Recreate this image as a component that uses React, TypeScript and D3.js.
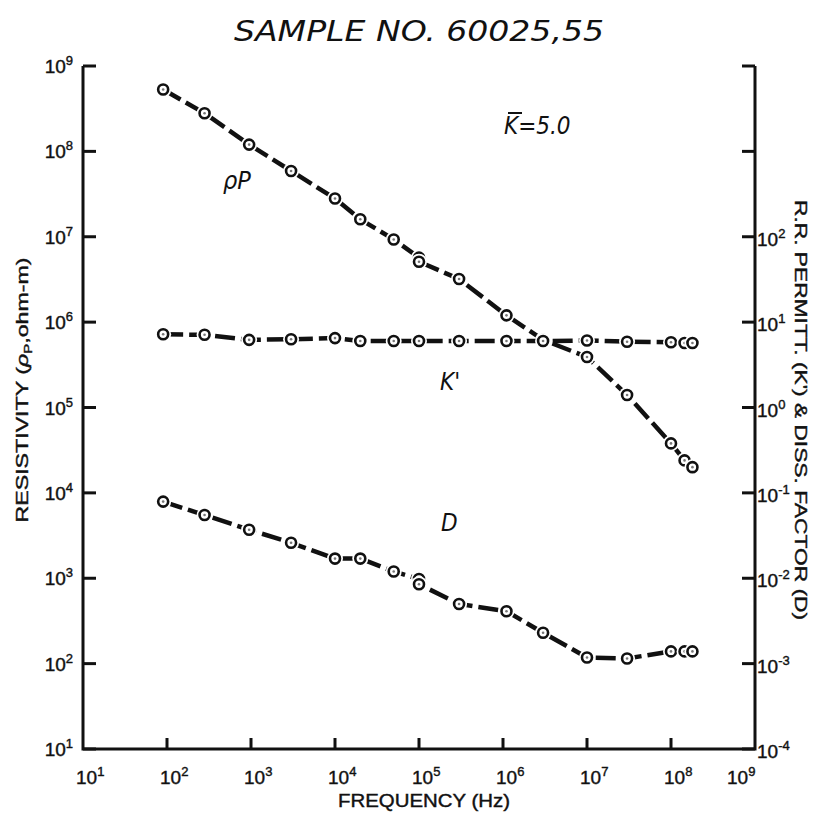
import React from 'react';
import * as d3 from 'd3';

// frequencies (Hz) of the measured points
const freq = [90, 280, 950, 3000, 1e4, 2e4, 5e4, 1e5, 3e5, 1.1e6, 3e6, 1e7, 3e7, 1e8, 1.45e8, 1.8e8];
// resistivity rho_P (ohm-m), left axis
const rhoP = [5.3e8, 2.8e8, 1.2e8, 5.9e7, 2.8e7, 1.6e7, 9.3e6, 5.7e6, 3.2e6, 1.2e6, 6.2e5, 3.9e5, 1.4e5, 3.8e4, 2.4e4, 2.0e4];
// relative permittivity K', right axis
const kPrime = [7.2, 7.1, 6.2, 6.3, 6.5, 6.0, 6.0, 6.0, 6.0, 6.0, 6.0, 6.1, 5.9, 5.8, 5.7, 5.7];
// dissipation factor D, right axis
const dFactor = [0.079, 0.055, 0.037, 0.026, 0.017, 0.017, 0.012, 0.0098, 0.005, 0.0041, 0.0023, 0.00118, 0.00115, 0.00139, 0.00139, 0.00139];
// second readings taken at 1e5 Hz
const rhoExtra = [{ f: 1e5, v: 5.1e6 }];
const dExtra = [{ f: 1e5, v: 0.0085 }];

const xExps = [1, 2, 3, 4, 5, 6, 7, 8, 9];
const leftExps = [1, 2, 3, 4, 5, 6, 7, 8, 9];
const rightExps = [-4, -3, -2, -1, 0, 1, 2, 3, 4];
const rightLabelled = [-4, -3, -2, -1, 0, 1, 2];

const W = 817;
const H = 814;
const font = "'Liberation Sans', 'DejaVu Sans', sans-serif";
const narrow = "'DejaVu Sans Condensed', 'Liberation Sans Narrow', 'DejaVu Sans', sans-serif";
const ink = '#111';

const x = d3.scaleLog().domain([10, 1e9]).range([83, 755]);
const yL = d3.scaleLog().domain([10, 1e9]).range([749, 66]);
const yR = d3.scaleLog().domain([1e-4, 1e4]).range([749, 66]);

type Pt = { f: number; v: number };

const line = (y: d3.ScaleLogarithmic<number, number>) =>
  d3
    .line<Pt>()
    .x((d) => x(d.f))
    .y((d) => y(d.v));

// "10" with a raised exponent, slightly heavy like the hand lettering
const Pow = ({ px, py, e, anchor }: { px: number; py: number; e: number; anchor?: string }) => (
  <text
    x={px}
    y={py}
    fontFamily={font}
    fontSize={19}
    textAnchor={anchor || 'start'}
    fill={ink}
    stroke={ink}
    strokeWidth={0.4}
  >
    <tspan>10</tspan>
    <tspan dy={-8} fontSize={13}>{String(e)}</tspan>
  </text>
);

const Marker = ({ cx, cy }: { cx: number; cy: number }) => (
  <g>
    <circle cx={cx} cy={cy} r={8} fill="#fff" />
    <circle cx={cx} cy={cy} r={5} fill="#fff" stroke={ink} strokeWidth={2.6} />
    <circle cx={cx} cy={cy} r={1.3} fill="#777" />
  </g>
);

const Series = ({ pts, y }: { pts: Pt[]; y: d3.ScaleLogarithmic<number, number> }) => (
  <g>
    <path d={line(y)(pts) || ''} fill="none" stroke={ink} strokeWidth={4.5} strokeDasharray="20 6" />
    {pts.map((d, i) => (
      <Marker key={i} cx={x(d.f)} cy={y(d.v)} />
    ))}
  </g>
);

const withExtra = (vals: number[], extra: Pt[]): Pt[] => {
  const pts: Pt[] = [];
  vals.forEach((v, i) => {
    pts.push({ f: freq[i], v });
    extra.filter((e) => e.f === freq[i]).forEach((e) => pts.push(e));
  });
  return pts;
};

export default function App() {
  const rhoPts = withExtra(rhoP, rhoExtra);
  const kPts = withExtra(kPrime, []);
  const dPts = withExtra(dFactor, dExtra);
  const x0 = x.range()[0];
  const x1 = x.range()[1];
  const yb = yL.range()[0];
  const yt = yL.range()[1];

  return (
    <div>
      <style>{'body{margin:0;overflow:hidden}'}</style>
      <svg width={W} height={H} style={{ display: 'block', background: '#fff' }}>
        <text
          x={419}
          y={41}
          textAnchor="middle"
          fontFamily={narrow}
          fontStyle="italic"
          fontSize={29}
          textLength={370}
          lengthAdjust="spacingAndGlyphs"
          fill={ink}
        >
          SAMPLE NO. 60025,55
        </text>

        {/* axes */}
        <path d={`M${x0},${yt}V${yb}H${x1}V${yt}`} fill="none" stroke={ink} strokeWidth={3} />
        {leftExps.map((e) => (
          <g key={'l' + e}>
            <line x1={x0} x2={x0 + 13} y1={yL(10 ** e)} y2={yL(10 ** e)} stroke={ink} strokeWidth={3} />
            <Pow px={73} py={yL(10 ** e) + 7} e={e} anchor="end" />
          </g>
        ))}
        {rightExps.map((e) => (
          <line key={'r' + e} x1={x1 - 13} x2={x1} y1={yR(10 ** e)} y2={yR(10 ** e)} stroke={ink} strokeWidth={3} />
        ))}
        {rightLabelled.map((e) => (
          <Pow key={'rl' + e} px={x1 + 2} py={yR(10 ** e) + 9} e={e} />
        ))}
        {xExps.map((e) => (
          <g key={'x' + e}>
            {e > 1 && e < 9 && (
              <line x1={x(10 ** e)} x2={x(10 ** e)} y1={yb} y2={yb - 11} stroke={ink} strokeWidth={3} />
            )}
            <Pow px={x(10 ** e) - (e === 9 ? 28 : 7)} py={784} e={e} />
          </g>
        ))}

        <text
          x={424}
          y={807}
          textAnchor="middle"
          fontFamily={font}
          fontSize={18}
          textLength={172}
          lengthAdjust="spacingAndGlyphs"
          fill={ink}
          stroke={ink}
          strokeWidth={0.4}
        >
          FREQUENCY (Hz)
        </text>
        <text
          transform="translate(28,390) rotate(-90)"
          textAnchor="middle"
          fontFamily={font}
          fontSize={17}
          textLength={265}
          lengthAdjust="spacingAndGlyphs"
          fill={ink}
          stroke={ink}
          strokeWidth={0.4}
        >
          RESISTIVITY (<tspan fontStyle="italic">ρ</tspan>
          <tspan fontSize={11} dy={4}>P</tspan>
          <tspan dy={-4}>,ohm-m)</tspan>
        </text>
        <text
          transform="translate(795,410) rotate(90)"
          textAnchor="middle"
          fontFamily={font}
          fontSize={17}
          textLength={420}
          lengthAdjust="spacingAndGlyphs"
          fill={ink}
          stroke={ink}
          strokeWidth={0.4}
        >
          R.R. PERMITT. (K') &amp; DISS. FACTOR (D)
        </text>

        {/* data */}
        <Series pts={rhoPts} y={yL} />
        <Series pts={kPts} y={yR} />
        <Series pts={dPts} y={yR} />

        {/* annotations */}
        <text x={504} y={134} fontFamily={narrow} fontStyle="italic" fontSize={24} fill={ink}>
          K=5.0
        </text>
        <line x1={508} x2={522} y1={113} y2={113} stroke={ink} strokeWidth={2} />
        <text x={223} y={189} fontFamily={narrow} fontStyle="italic" fontSize={25} fill={ink}>
          ρP
        </text>
        <text x={440} y={390} fontFamily={narrow} fontStyle="italic" fontSize={24} fill={ink}>
          K'
        </text>
        <text x={441} y={531} fontFamily={narrow} fontStyle="italic" fontSize={24} fill={ink}>
          D
        </text>
      </svg>
    </div>
  );
}
